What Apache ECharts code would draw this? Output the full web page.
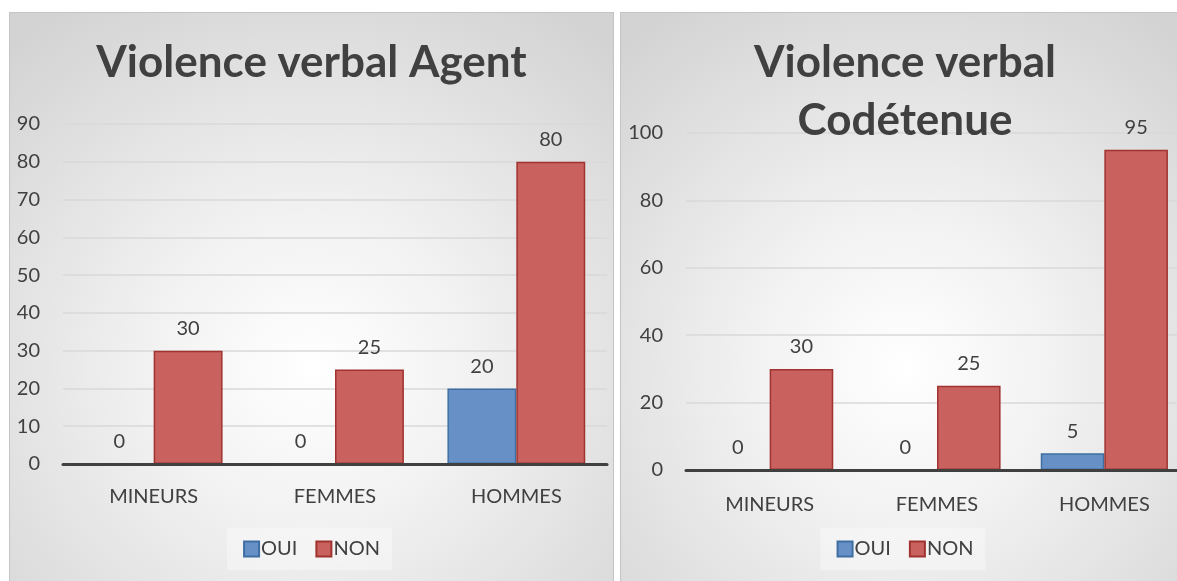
<!DOCTYPE html>
<html>
<head>
<meta charset="utf-8">
<script src="https://cdn.jsdelivr.net/npm/echarts@6/dist/echarts.min.js"></script>
<style>
  html, body { margin: 0; padding: 0; width: 1177px; height: 581px; overflow: hidden; background: #fff; }
  .panel {
    position: absolute;
    top: 12px;
    height: 575px;
    border: 1px solid #c4c4c4;
    box-sizing: border-box;
    background: radial-gradient(ellipse 75% 75% at 50% 62%, #ffffff 0%, #f2f2f2 35%, #d3d3d3 100%);
  }
  #agent { left: 9px; width: 605px; }
  #codetenue { left: 620px; width: 570px; }
</style>
</head>
<body>
<div id="agent" class="panel"></div>
<div id="codetenue" class="panel"></div>
<script>
  // categories and values
  var categories = ['MINEURS', 'FEMMES', 'HOMMES']
  var agentOui = [0, 0, 20]
  var agentNon = [30, 25, 80]
  var codetenueOui = [0, 0, 5]
  var codetenueNon = [30, 25, 95]

  var textColor = '#404040'
  var font = 'Lato'

  function makeOption(title, oui, non, grid, yMax, yStep, labelMargin) {
    var barLabel = {
      show: true,
      position: 'top',
      distance: 12,
      color: textColor,
      fontFamily: font,
      fontSize: 20
    }
    return {
      animation: false,
      textStyle: { fontFamily: font },
      title: {
        text: title,
        left: 'center',
        top: 16,
        textStyle: {
          fontFamily: font,
          fontWeight: 'bold',
          fontSize: 44,
          lineHeight: 58,
          color: textColor
        }
      },
      legend: {
        data: ['OUI', 'NON'],
        left: 'center',
        top: 515,
        icon: 'rect',
        itemWidth: 15,
        itemHeight: 15,
        itemGap: 18,
        padding: [11, 12, 11, 16],
        backgroundColor: 'rgba(255,255,255,0.35)',
        textStyle: { color: textColor, fontFamily: font, fontSize: 20, padding: [0, 0, 0, -3] }
      },
      grid: grid,
      xAxis: {
        type: 'category',
        data: categories,
        z: 10,
        axisTick: { show: false },
        axisLine: { lineStyle: { color: textColor, width: 3 } },
        axisLabel: { color: textColor, fontFamily: font, fontSize: 20, margin: labelMargin }
      },
      yAxis: {
        type: 'value',
        min: 0,
        max: yMax,
        interval: yStep,
        axisLine: { show: false },
        axisTick: { show: false },
        axisLabel: { color: textColor, fontFamily: font, fontSize: 20, margin: 23 },
        splitLine: { lineStyle: { color: '#d9d9d9', width: 1.5 } }
      },
      series: [
        {
          name: 'OUI',
          type: 'bar',
          barWidth: '38%',
          barGap: '0%',
          data: oui,
          itemStyle: { color: '#6690c6', borderColor: '#3f6fa2', borderWidth: 1.5 },
          label: barLabel
        },
        {
          name: 'NON',
          type: 'bar',
          barWidth: '38%',
          barGap: '0%',
          data: non,
          itemStyle: { color: '#c9625f', borderColor: '#a0332f', borderWidth: 1.5 },
          label: barLabel
        }
      ]
    }
  }

  var chartA = echarts.init(document.getElementById('agent'))
  chartA.setOption(makeOption('Violence verbal Agent', agentOui, agentNon,
    { left: 53, right: 6, top: 111, bottom: 122 }, 90, 10, 23))

  var chartB = echarts.init(document.getElementById('codetenue'))
  chartB.setOption(makeOption('Violence verbal\nCodétenue', codetenueOui, codetenueNon,
    { left: 65, right: 1, top: 120, bottom: 116 }, 100, 20, 25))
</script>
</body>
</html>
